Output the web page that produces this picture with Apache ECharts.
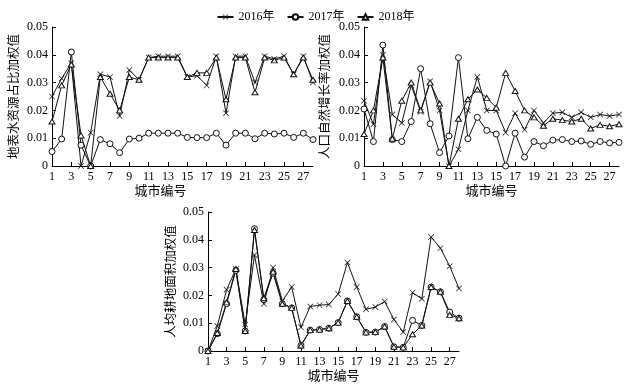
<!DOCTYPE html>
<html><head><meta charset="utf-8">
<script src="https://cdn.jsdelivr.net/npm/echarts@6/dist/echarts.min.js"></script>
<style>html,body{margin:0;padding:0;background:#fff}#c{width:631px;height:387px}</style>
</head><body><div id="c"></div>
<script>
const cities = ['1','2','3','4','5','6','7','8','9','10','11','12','13','14','15','16','17','18','19','20','21','22','23','24','25','26','27','28'];
const seriesNames = ['2016年','2017年','2018年'];
const yNames = ['地表水资源占比加权值','人口自然增长率加权值','人均耕地面积加权值'];
const xName = '城市编号';
const yTicks = [0, 0.01, 0.02, 0.03, 0.04, 0.05];

// Panel 1: 地表水资源占比加权值
const water2016 = [0.025,0.0315,0.037,0,0.012,0.033,0.032,0.018,0.0345,0.031,0.039,0.0395,0.0395,0.0395,0.032,0.0325,0.029,0.0395,0.019,0.0395,0.0395,0.030,0.0395,0.0385,0.0395,0.033,0.0395,0.030];
const water2017 = [0.0052,0.0097,0.041,0.0075,0,0.0095,0.008,0.0048,0.0097,0.010,0.0118,0.0118,0.0118,0.0118,0.0103,0.0102,0.0102,0.0118,0.0075,0.0118,0.0118,0.0098,0.0118,0.0115,0.0118,0.0103,0.0118,0.0095];
const water2018 = [0.016,0.029,0.0365,0.011,0,0.032,0.026,0.020,0.032,0.031,0.039,0.039,0.039,0.039,0.032,0.0335,0.0335,0.039,0.024,0.039,0.039,0.0265,0.039,0.038,0.039,0.033,0.039,0.031];

// Panel 2: 人口自然增长率加权值
const pop2016 = [0.0235,0.015,0.040,0.0185,0.0155,0.029,0.0195,0.0305,0.020,0,0.006,0.020,0.032,0.020,0.020,0.012,0.019,0.013,0.020,0.0155,0.019,0.0193,0.0175,0.0193,0.0175,0.0185,0.018,0.0185];
const pop2017 = [0.0205,0.0088,0.0435,0.0095,0.0088,0.016,0.035,0.0152,0.0048,0.0108,0.039,0.0098,0.0175,0.0128,0.0115,0,0.0118,0.0032,0.0088,0.0073,0.0093,0.0095,0.0088,0.009,0.0078,0.0088,0.0083,0.0085];
const pop2018 = [0.0115,0.020,0.039,0.0098,0.0235,0.030,0.020,0.030,0.0225,0,0.017,0.024,0.0275,0.0245,0.021,0.0335,0.027,0.020,0.0175,0.0145,0.017,0.0165,0.016,0.017,0.0135,0.0148,0.0143,0.015];

// Panel 3: 人均耕地面积加权值
const land2016 = [0,0.009,0.022,0.0295,0.0095,0.0345,0.017,0.030,0.018,0.023,0.0085,0.016,0.0165,0.0167,0.0205,0.0318,0.023,0.015,0.0158,0.0178,0.0113,0.0068,0.021,0.0188,0.041,0.037,0.0305,0.0225];
const land2017 = [0,0.0062,0.017,0.029,0.0072,0.044,0.0185,0.028,0.017,0.0155,0.002,0.0075,0.0077,0.0082,0.0102,0.018,0.0123,0.0067,0.0068,0.0088,0.0015,0.0013,0.011,0.0092,0.023,0.0213,0.014,0.0118];
const land2018 = [0,0.0065,0.0175,0.0295,0.0072,0.0435,0.019,0.0285,0.017,0.0155,0.002,0.0075,0.0077,0.0082,0.0102,0.018,0.0123,0.0067,0.0068,0.0088,0.0015,0.0013,0.006,0.0092,0.023,0.0213,0.013,0.0118];

const panels = [
  [water2016, water2017, water2018],
  [pop2016, pop2017, pop2018],
  [land2016, land2017, land2018]
];

const xMark = 'path://M0,0.8L0.8,0L5,4.2L9.2,0L10,0.8L5.8,5L10,9.2L9.2,10L5,5.8L0.8,10L0,9.2L4.2,5Z';
const symbols = [xMark, 'circle', 'triangle'];
const symSizes = [6, 6, [6, 5]];
const symFills = ['#111', '#fff', '#fff'];
const symBorders = [0, 1, 1];

const serif = '"Liberation Serif","Times New Roman","Noto Sans CJK SC",serif';
const grids = [
  {left: 52, top: 27, width: 261, height: 139},
  {left: 364, top: 27, width: 255, height: 139},
  {left: 208, top: 212, width: 251, height: 139}
];
const yNameGaps = [31, 32, 30];
const xNamePads = [[0, 44, 0, 0], [0, 0, 0, 0], [0, 0, 0, 0]];

const xAxes = grids.map((g, i) => ({
  type: 'category', gridIndex: i, data: cities, boundaryGap: false,
  axisLine: {lineStyle: {color: '#000', width: 1}},
  axisTick: {inside: true, interval: 1, length: 4, lineStyle: {color: '#000'}},
  axisLabel: {interval: 1, color: '#000', fontFamily: serif, fontSize: 12, margin: 5},
  name: xName, nameLocation: 'middle', nameGap: 19,
  nameTextStyle: {color: '#000', fontFamily: serif, fontSize: 13, padding: xNamePads[i]},
  splitLine: {show: false}
}));
const yAxes = grids.map((g, i) => ({
  type: 'value', gridIndex: i, min: yTicks[0], max: yTicks[yTicks.length - 1], interval: 0.01,
  axisLine: {show: true, lineStyle: {color: '#000', width: 1}},
  axisTick: {show: true, inside: true, length: 4, lineStyle: {color: '#000'}},
  axisLabel: {color: '#000', fontFamily: serif, fontSize: 12, margin: 4},
  splitLine: {show: false},
  name: yNames[i], nameLocation: 'middle', nameRotate: 90, nameGap: yNameGaps[i],
  nameTextStyle: {color: '#000', fontFamily: serif, fontSize: 12.5}
}));

const series = [];
panels.forEach((p, i) => {
  p.forEach((vals, k) => {
    series.push({
      name: seriesNames[k], type: 'line', xAxisIndex: i, yAxisIndex: i,
      data: vals, symbol: symbols[k], symbolSize: symSizes[k], showAllSymbol: true,
      lineStyle: {color: '#111', width: 1},
      itemStyle: {color: symFills[k], borderColor: '#111', borderWidth: symBorders[k]},
      emphasis: {disabled: true}, animation: false
    });
  });
});

const chart = echarts.init(document.getElementById('c'));
chart.setOption({
  backgroundColor: '#fff',
  animation: false,
  legend: {
    data: seriesNames, top: 6, left: 'center', itemWidth: 16, itemHeight: 7, itemGap: 12,
    textStyle: {color: '#000', fontFamily: serif, fontSize: 12}
  },
  grid: grids,
  xAxis: xAxes,
  yAxis: yAxes,
  series: series
});
</script></body></html>
